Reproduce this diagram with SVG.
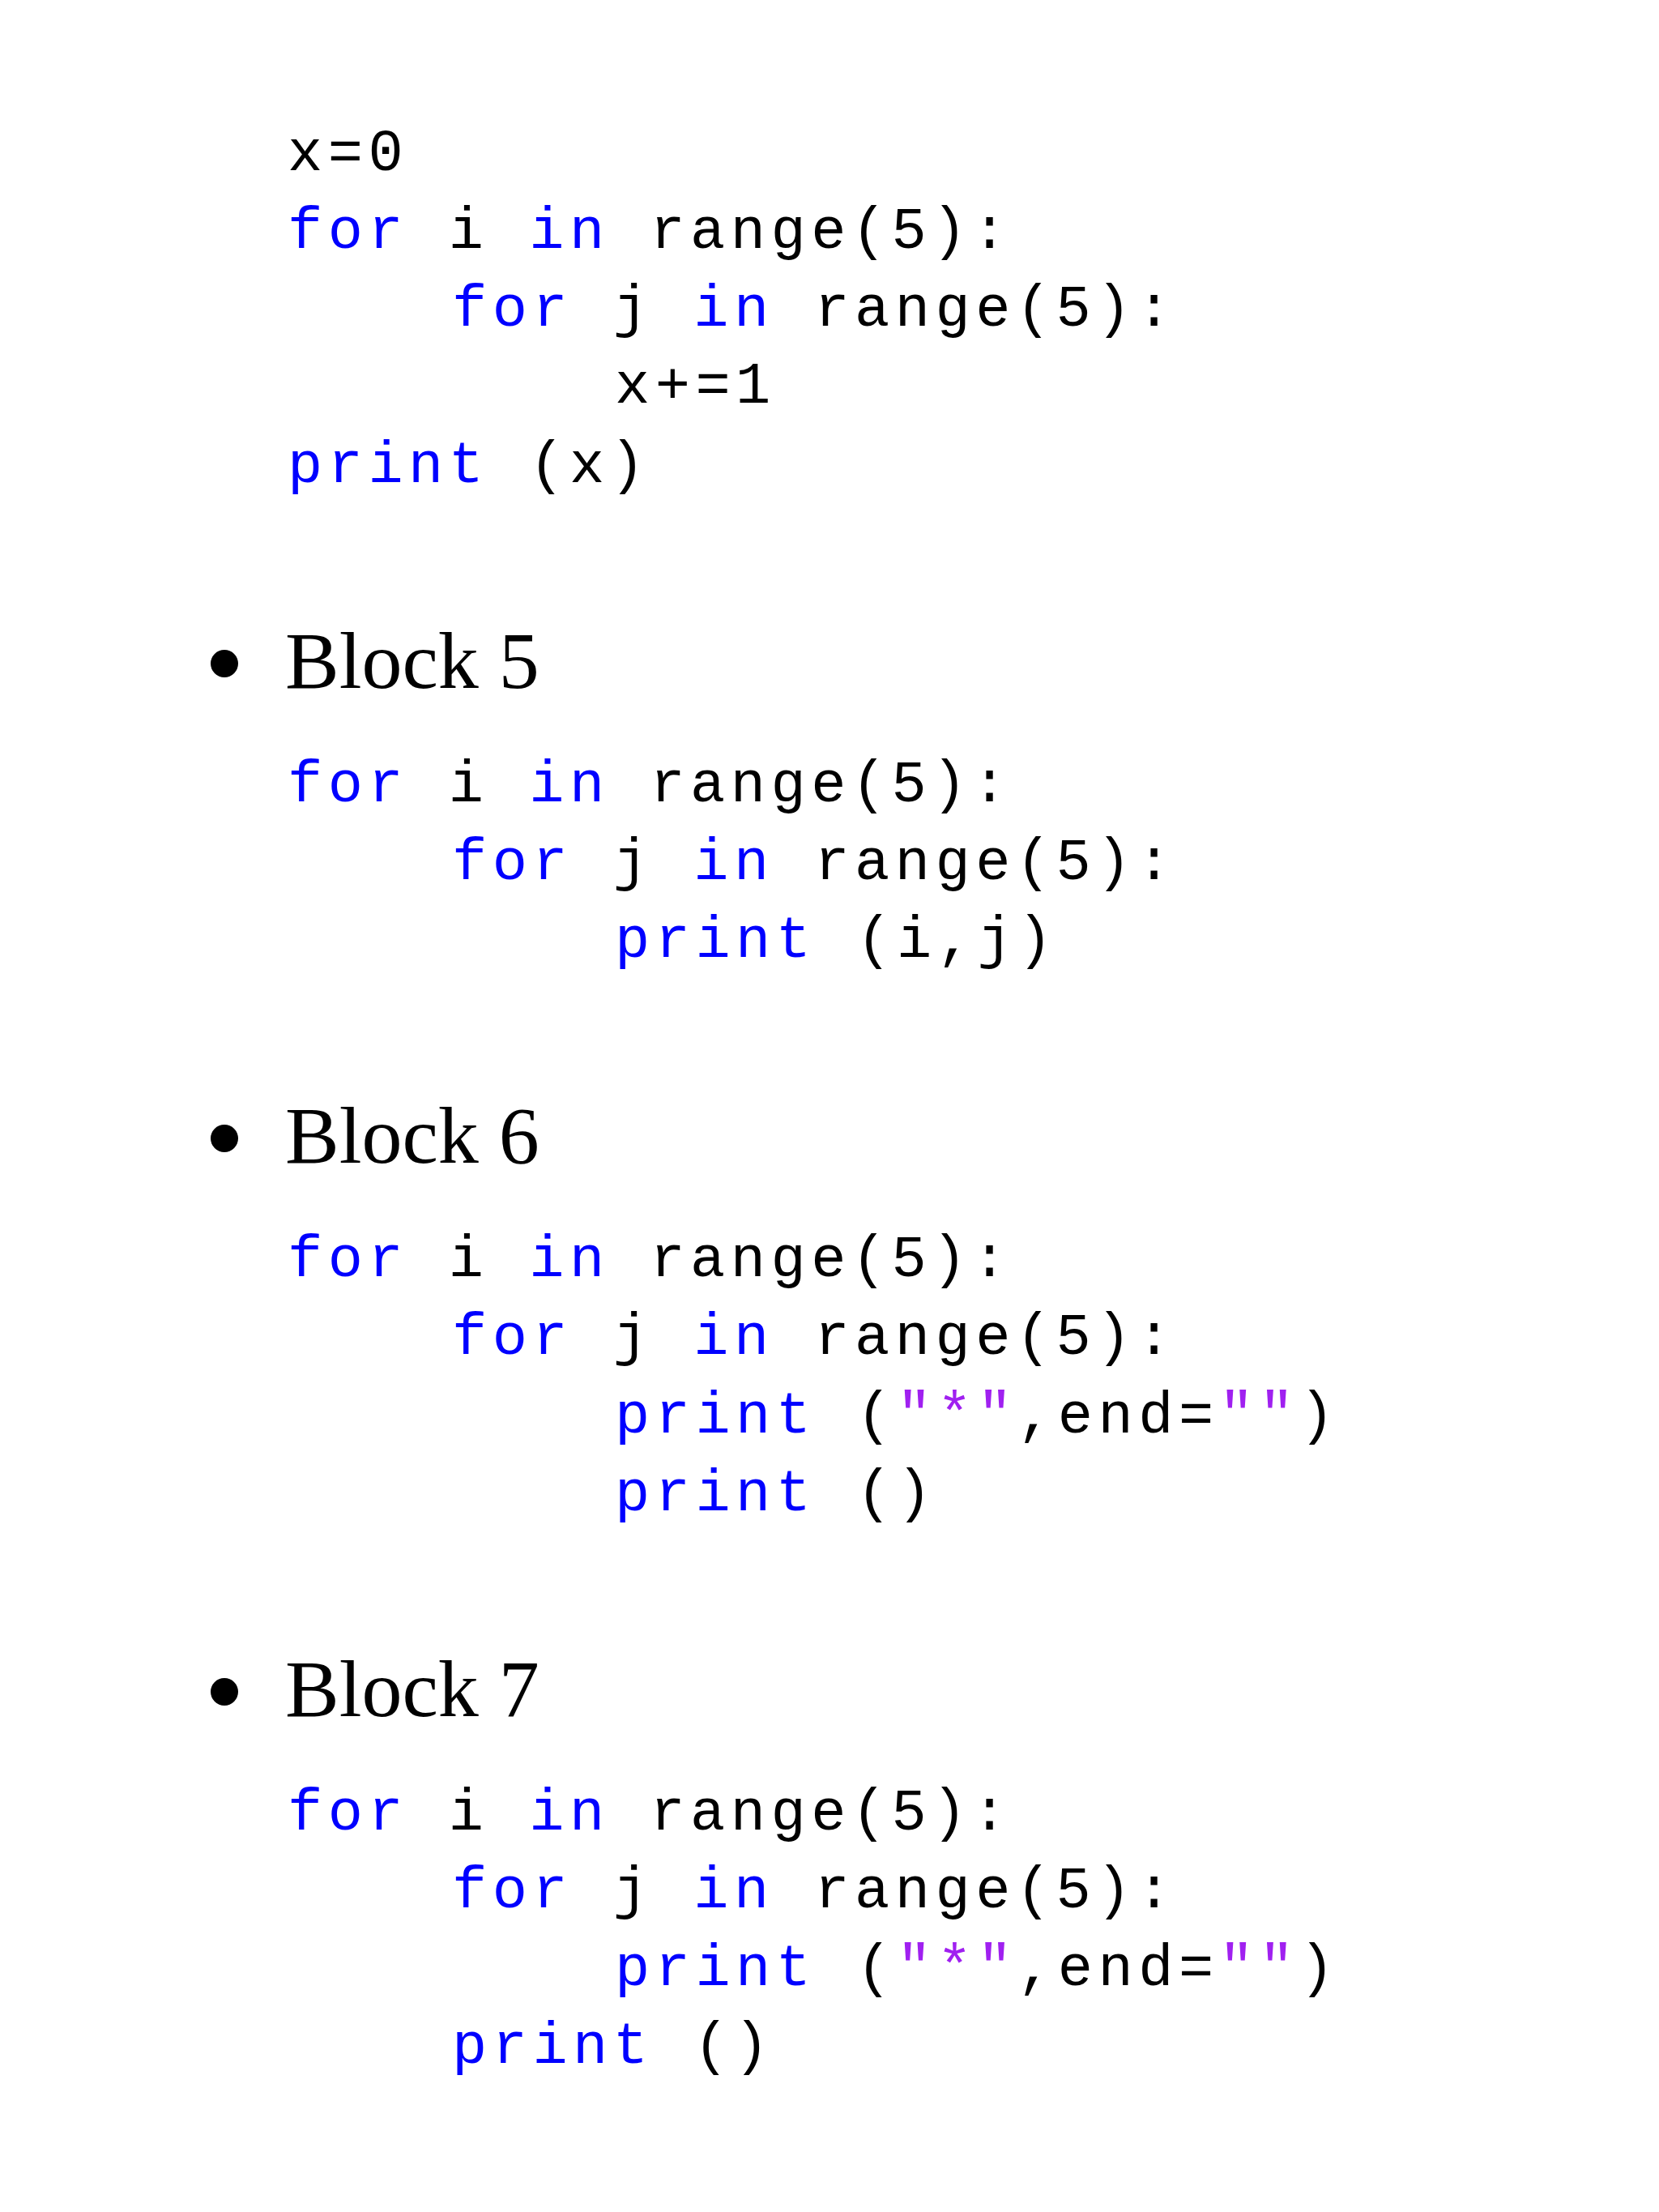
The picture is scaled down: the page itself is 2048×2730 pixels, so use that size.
<svg xmlns="http://www.w3.org/2000/svg" width="2048" height="2730" viewBox="0 0 2048 2730">
<style>
.c{font-family:"Liberation Mono",monospace;font-size:72px;letter-spacing:6.5px;fill:#000;white-space:pre}
.k{fill:#0000ff}
.s{fill:#a020f0}
.h{font-family:"Liberation Serif",serif;font-size:100px;fill:#000}
</style>
<rect width="2048" height="2730" fill="#fff"/>
<g id="block4" xml:space="preserve">
<text class="c" x="355" y="210">x=0</text>
<text class="c" x="355" y="306"><tspan class="k">for</tspan> i <tspan class="k">in</tspan> range(5):</text>
<text class="c" x="558" y="402"><tspan class="k">for</tspan> j <tspan class="k">in</tspan> range(5):</text>
<text class="c" x="759" y="497">x+=1</text>
<text class="c" x="355" y="595"><tspan class="k">print</tspan> (x)</text>
</g>
<g id="block5" xml:space="preserve">
<circle cx="277" cy="819" r="17"/>
<text class="h" x="352" y="849">Block 5</text>
<text class="c" x="355" y="989"><tspan class="k">for</tspan> i <tspan class="k">in</tspan> range(5):</text>
<text class="c" x="558" y="1085"><tspan class="k">for</tspan> j <tspan class="k">in</tspan> range(5):</text>
<text class="c" x="759" y="1181"><tspan class="k">print</tspan> (i,j)</text>
</g>
<g id="block6" xml:space="preserve">
<circle cx="277" cy="1405" r="17"/>
<text class="h" x="352" y="1435">Block 6</text>
<text class="c" x="355" y="1575"><tspan class="k">for</tspan> i <tspan class="k">in</tspan> range(5):</text>
<text class="c" x="558" y="1671"><tspan class="k">for</tspan> j <tspan class="k">in</tspan> range(5):</text>
<text class="c" x="759" y="1768"><tspan class="k">print</tspan> (<tspan class="s">"*"</tspan>,end=<tspan class="s">""</tspan>)</text>
<text class="c" x="759" y="1864"><tspan class="k">print</tspan> ()</text>
</g>
<g id="block7" xml:space="preserve">
<circle cx="277" cy="2088" r="17"/>
<text class="h" x="352" y="2118">Block 7</text>
<text class="c" x="355" y="2258"><tspan class="k">for</tspan> i <tspan class="k">in</tspan> range(5):</text>
<text class="c" x="558" y="2354"><tspan class="k">for</tspan> j <tspan class="k">in</tspan> range(5):</text>
<text class="c" x="759" y="2450"><tspan class="k">print</tspan> (<tspan class="s">"*"</tspan>,end=<tspan class="s">""</tspan>)</text>
<text class="c" x="558" y="2546"><tspan class="k">print</tspan> ()</text>
</g>
<g id="connectors"/>
</svg>
